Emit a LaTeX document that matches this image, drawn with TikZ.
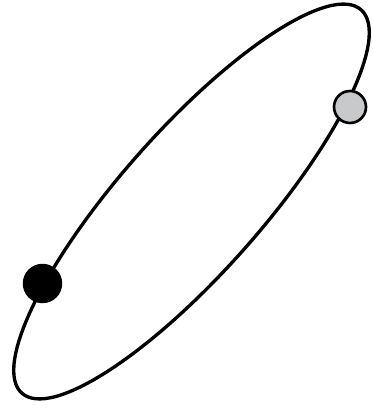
\documentclass[tikz,border=0pt]{standalone}
\usepackage{xcolor}
\usepackage{tikz}
\usetikzlibrary{positioning}
\definecolor{trait}{HTML}{000000}
\definecolor{grisclair}{HTML}{C8C9CB}
\tikzset{
  orbite/.style={draw=trait, line width=1.9pt},
  pointnoir/.style={circle, draw=trait, fill=trait, line width=1.4pt,
    minimum size=7.4mm, inner sep=0pt},
  pointgris/.style={circle, draw=trait, fill=grisclair, line width=1.5pt,
    minimum size=6.4mm, inner sep=0pt},
}
\begin{document}
\begin{tikzpicture}[x=0.02cm, y=0.02cm]
    \useasboundingbox (0,0) rectangle (372,-411);
    % Orbite
    \coordinate (centre) at (191.5,-201.5);
    \draw[orbite, rotate around={48.5:(centre)}] (centre) ellipse [x radius=5.12cm, y radius=1.42cm];
    % Points
    \node[pointnoir] (noir) at (42.5,-283.5) {};
    \node[pointgris] (gris) at (350,-107) {};
\end{tikzpicture}
\end{document}
